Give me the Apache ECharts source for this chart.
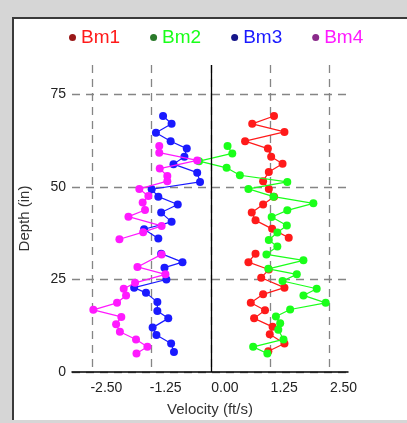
<!DOCTYPE html>
<html>
<head>
<meta charset="utf-8">
<script src="https://cdn.jsdelivr.net/npm/echarts@6/dist/echarts.min.js"></script>
<style>
  html, body { margin: 0; padding: 0; }
  body { width: 407px; height: 423px; background: #d6d6d6; position: relative; overflow: hidden; }
  #panel {
    position: absolute; left: 12px; top: 17px; width: 395px; height: 401px;
    background: #fff; border-left: 2px solid #3a3a3a; border-top: 2px solid #3a3a3a;
  }
  #chart { position: absolute; left: 0; top: 0; width: 407px; height: 423px; }
</style>
</head>
<body>
<div id="panel"></div>
<div id="chart"></div>
<script>
  var names = ['Bm1', 'Bm2', 'Bm3', 'Bm4'];
  var xTicks = [-2.5, -1.25, 0, 1.25, 2.5];
  var yTicks = [0, 25, 50, 75];

  // Bm1 / Bm3 (null = no reading)
  var depth1 = [69.2, 67.1, 64.9, 62.4, 60.4, 58.2, 56.3, 54.1, 51.6, 49.5, 47.4, 45.3, 43.1, 41.0, 38.7, 36.3, null,
    32.0, 29.7, 27.7, 25.5, 22.8, 21.0, 18.7, 16.7, 14.5, 12.2, 10.2, 7.7, 5.6];
  var vel1 = [1.33, 0.87, 1.55, 0.72, 1.20, 1.27, 1.51, 1.22, 1.10, 1.22, 1.33, 1.10, 0.86, 0.94, 1.29, 1.64, null,
    0.94, 0.79, 1.22, 1.06, 1.55, 1.10, 0.84, 1.14, 0.91, 1.30, 1.24, 1.55, 1.21];

  var depth3 = [69.2, 67.1, 64.7, 62.4, 60.4, 58.2, 56.2, 53.9, 51.4, 49.4, 47.4, 45.3, 43.1, 40.6, 38.6, 36.1, null,
    32.0, 29.7, 28.2, 25.0, 22.8, 21.4, 18.9, 16.5, 14.5, 12.0, 10.0, 7.7, 5.4];
  var vel3 = [-1.01, -0.83, -1.16, -0.85, -0.51, -0.56, -0.79, -0.29, -0.23, -1.25, -1.11, -0.70, -1.05, -0.83, -1.41, -1.11, null,
    -1.05, -0.60, -0.98, -0.94, -1.62, -1.37, -1.13, -1.13, -0.90, -1.23, -1.15, -0.84, -0.78];

  // Bm2 / Bm4
  var depth2 = [61.1, 59.1, 57.0, 55.2, 53.2, 51.4, 49.5, 47.4, 45.6, 43.7, 41.9, 39.6, 37.7, 35.7, 33.9,
    31.8, 30.2, 27.9, 26.4, 24.6, 22.5, 20.7, 18.7, 16.9, 15.0, 13.2, 11.4, 8.8, 6.8, 5.0];
  var vel2 = [0.35, 0.45, -0.25, 0.33, 0.61, 1.61, 0.79, 1.32, 2.16, 1.61, 1.28, 1.60, 1.40, 1.22, 1.40,
    1.17, 1.95, 1.21, 1.81, 1.51, 2.23, 1.95, 2.42, 1.67, 1.37, 1.46, 1.42, 1.53, 0.89, 1.19];

  var depth4 = [61.1, 59.3, 57.2, 55.0, 53.0, 51.6, 49.5, 47.6, 45.8, 43.8, 42.0, 39.5, 37.8, 35.9, null,
    31.8, 28.4, 26.4, 24.1, 22.5, 20.7, 18.7, 16.8, 14.9, 12.9, 10.9, 8.8, 6.8, 5.0];
  var vel4 = [-1.09, -1.09, -0.29, -1.08, -0.92, -0.92, -1.51, -1.32, -1.44, -1.39, -1.74, -1.04, -1.43, -1.93, null,
    -1.04, -1.55, -0.96, -1.60, -1.84, -1.79, -1.98, -2.48, -1.89, -2.00, -1.92, -1.58, -1.34, -1.57];

  var colors = ['#ff1a1a', '#1aff1a', '#1a1aff', '#ff1aff'];
  var dotColors = ['#9a1818', '#2a7a2a', '#16168a', '#8a2a8a'];

  function pairs(v, d) {
    return v.map(function (x, i) {
      return x == null ? ['-', '-'] : [x, d[i]];
    });
  }
  var seriesData = [pairs(vel1, depth1), pairs(vel2, depth2), pairs(vel3, depth3), pairs(vel4, depth4)];

  var chart = echarts.init(document.getElementById('chart'));
  var font = '"Liberation Sans", Arial, sans-serif';
  var dash = { color: '#858585', type: [8, 6], width: 1.3 };

  var option = {
    backgroundColor: 'transparent',
    animation: false,
    textStyle: { fontFamily: font },
    legend: {
      left: 69,
      top: 28,
      padding: 0,
      icon: 'circle',
      itemWidth: 7,
      itemHeight: 7,
      itemGap: 30,
      textStyle: { fontSize: 19, fontFamily: font },
      data: names.map(function (n, i) {
        return { name: n, itemStyle: { color: dotColors[i] }, textStyle: { color: colors[i] } };
      })
    },
    grid: { left: 72, right: 59, top: 65, bottom: 51 },
    xAxis: {
      type: 'value',
      min: -2.93,
      max: 2.89,
      name: 'Velocity (ft/s)',
      nameLocation: 'middle',
      nameGap: 30,
      nameTextStyle: { fontSize: 15, color: '#333', fontFamily: font },
      axisLine: { show: true, onZero: false, lineStyle: { color: '#000', width: 1.5 } },
      axisTick: { show: false, customValues: xTicks },
      axisLabel: {
        customValues: xTicks,
        formatter: function (v) { return v.toFixed(2); },
        fontSize: 14, color: '#222', margin: 9, padding: [0, 0, 0, 28]
      },
      splitLine: { show: true, lineStyle: dash }
    },
    yAxis: {
      type: 'value',
      min: 0,
      max: 83,
      name: 'Depth (in)',
      nameLocation: 'middle',
      nameGap: 40,
      nameTextStyle: { fontSize: 15, color: '#333', fontFamily: font },
      axisLine: { show: false },
      axisTick: { show: false, customValues: yTicks },
      axisLabel: { customValues: yTicks, fontSize: 14, color: '#222', margin: 6 },
      splitLine: { show: true, lineStyle: dash }
    },
    series: names.map(function (n, i) {
      var s = {
        name: n,
        type: 'line',
        data: seriesData[i],
        connectNulls: false,
        symbol: 'circle',
        symbolSize: 8,
        showAllSymbol: true,
        itemStyle: { color: colors[i] },
        lineStyle: { color: colors[i], width: 1.2 },
        z: 3 + i
      };
      if (i === 0) {
        s.markLine = {
          silent: true,
          symbol: 'none',
          label: { show: false },
          lineStyle: { color: '#000', type: 'solid', width: 1.3 },
          data: [{ xAxis: 0 }]
        };
      }
      return s;
    })
  };

  chart.setOption(option);
</script>
</body>
</html>
